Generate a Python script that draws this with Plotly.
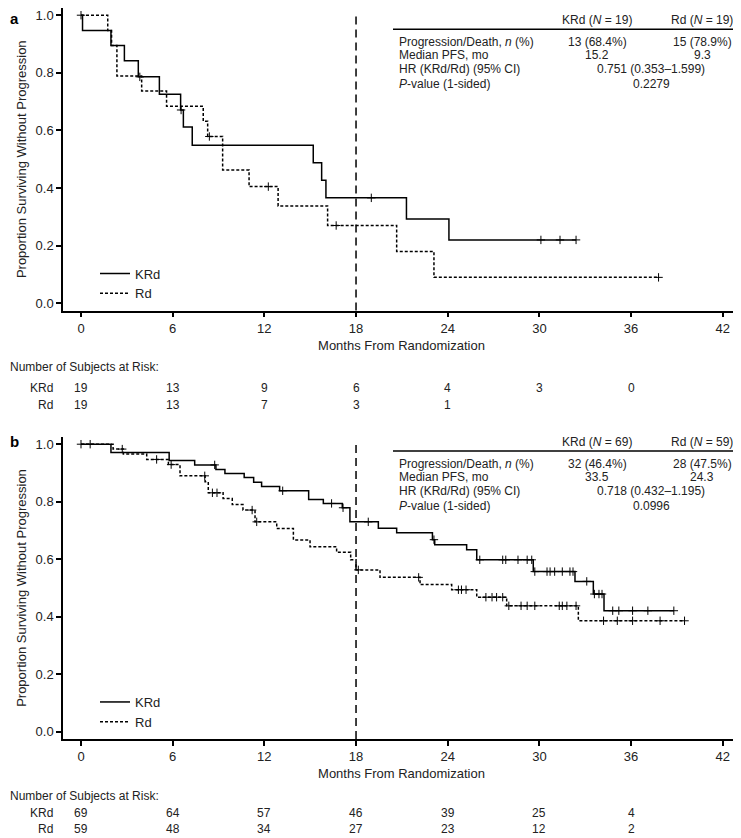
import bisect
import plotly.graph_objects as go

# the page body keeps its default 8px margin, so the figure is 8px smaller
OFF = 8
W, H = 741 - OFF, 838 - OFF
FONT = "Liberation Sans, Arial, sans-serif"
INK = "#222222"

# ---- panel a (N=19 / 19) ----
A_KRD_T = [0, 0.1, 1.96, 2.84, 3.75, 5.13, 6.52, 6.70, 7.28, 15.2, 15.75, 16.03, 21.3, 24.08]
A_KRD_S = [1.0, 0.947, 0.895, 0.842, 0.786, 0.726, 0.671, 0.612, 0.549, 0.488, 0.427, 0.366, 0.293, 0.220]
A_KRD_END = 32.4
A_KRD_CENS = [3.85, 6.55, 19.0, 30.1, 31.35, 32.4]

A_RD_T = [0, 1.75, 2.0, 2.35, 3.97, 5.6, 8.0, 8.29, 9.27, 11.0, 12.9, 16.14, 20.66, 23.1]
A_RD_S = [1.0, 0.947, 0.895, 0.789, 0.737, 0.684, 0.632, 0.579, 0.463, 0.405, 0.338, 0.270, 0.180, 0.090]
A_RD_END = 37.8
A_RD_CENS = [0.0, 8.4, 12.26, 16.7, 37.8]

# ---- panel b (N=69 / 59) ----
B_KRD_T = [0, 1.96, 5.77, 7.44, 8.83, 9.42, 10.68, 11.3, 11.82, 13.0, 14.9, 15.86, 17.1, 17.6,
           19.46, 20.66, 23.0, 23.15, 25.24, 25.9, 29.6, 32.33, 33.53, 34.23]
B_KRD_S = [1.0, 0.971, 0.943, 0.928, 0.912, 0.898, 0.884, 0.868, 0.853, 0.838, 0.808, 0.794, 0.779, 0.730,
           0.708, 0.692, 0.668, 0.650, 0.633, 0.598, 0.557, 0.523, 0.479, 0.421]
B_KRD_END = 38.8
B_KRD_CENS = [0.0, 0.6, 8.75, 13.2, 16.4, 17.15, 18.8, 23.1, 26.1, 27.6, 27.8, 28.6, 29.2, 29.5, 29.7,
              30.5, 30.7, 31.0, 31.5, 32.0, 32.2, 33.1, 33.6, 33.9, 34.1, 34.8, 35.2, 36.1, 37.1, 38.8]

B_RD_T = [0, 2.1, 2.77, 4.3, 5.72, 6.48, 8.12, 8.33, 9.3, 9.9, 10.6, 11.39, 12.81, 13.9, 14.99, 16.73,
          17.65, 18.0, 19.57, 22.19, 24.26, 25.9, 27.86, 32.55]
B_RD_S = [1.0, 0.983, 0.966, 0.947, 0.929, 0.890, 0.869, 0.831, 0.811, 0.790, 0.771, 0.730, 0.707, 0.667,
          0.643, 0.624, 0.598, 0.563, 0.537, 0.512, 0.494, 0.468, 0.438, 0.386]
B_RD_END = 39.5
B_RD_CENS = [2.7, 4.95, 5.9, 8.1, 8.6, 8.9, 11.2, 11.5, 18.15, 22.1, 24.7, 24.9, 25.2, 26.5, 26.9, 27.2,
             27.6, 28.0, 28.8, 29.2, 29.7, 31.3, 31.5, 31.8, 32.4, 34.2, 35.1, 36.1, 37.9, 39.5]

RISK_T = [0, 6, 12, 18, 24, 30, 36]
A_RISK_KRD = [19, 13, 9, 6, 4, 3, 0]
A_RISK_RD = [19, 13, 7, 3, 1]
B_RISK_KRD = [69, 64, 57, 46, 39, 25, 4]
B_RISK_RD = [59, 48, 34, 27, 23, 12, 2]

A_STATS = dict(head=("KRd (<i>N</i> = 19)", "Rd (<i>N</i> = 19)"),
               pd=("13 (68.4%)", "15 (78.9%)"), med=("15.2", "9.3"),
               hr="0.751 (0.353–1.599)", p="0.2279")
B_STATS = dict(head=("KRd (<i>N</i> = 69)", "Rd (<i>N</i> = 59)"),
               pd=("32 (46.4%)", "28 (47.5%)"), med=("33.5", "24.3"),
               hr="0.718 (0.432–1.195)", p="0.0996")


def px_x(p):
    # page pixel -> paper fraction
    return (p - OFF) / W


def px_y(p):
    return 1 - (p - OFF) / H


def level_at(T, S, t):
    return S[bisect.bisect_right(T, t) - 1]


fig = go.Figure()

# panel geometry in page pixels: top of plot area, y of the x-axis line, at-risk rows
PANELS = [
    dict(suf="", top=8, bot=310.5, risk_y=(388, 405), T=(A_KRD_T, A_KRD_S, A_KRD_END, A_KRD_CENS),
         R=(A_RD_T, A_RD_S, A_RD_END, A_RD_CENS), legend="legend"),
    dict(suf="2", top=437, bot=739, risk_y=(813, 829), T=(B_KRD_T, B_KRD_S, B_KRD_END, B_KRD_CENS),
         R=(B_RD_T, B_RD_S, B_RD_END, B_RD_CENS), legend="legend2"),
]

for p in PANELS:
    xa, ya = "x" + p["suf"], "y" + p["suf"]
    for name, (T, S, end, cens), dash in [("KRd", p["T"], "solid"), ("Rd", p["R"], "3px,2px")]:
        fig.add_trace(go.Scatter(
            x=T + [end], y=S + [S[-1]], mode="lines", line_shape="hv",
            line=dict(color="black", width=1.5, dash=dash), name=name,
            xaxis=xa, yaxis=ya, legend=p["legend"], hoverinfo="skip"))
        fig.add_trace(go.Scatter(
            x=cens, y=[level_at(T, S, c) for c in cens], mode="markers",
            marker=dict(symbol="cross-thin", size=6, line=dict(color="black", width=1)),
            showlegend=False, xaxis=xa, yaxis=ya, hoverinfo="skip"))

axis_common = dict(showline=True, linecolor="black", linewidth=1.5, ticks="outside", ticklen=5,
                   tickwidth=1.5, tickcolor="black", showgrid=False, zeroline=False,
                   ticklabeloverflow="allow",
                   tickfont=dict(size=13, color=INK, family=FONT))

lay = dict(width=W, height=H, margin=dict(l=0, r=0, t=0, b=0),
           paper_bgcolor="white", plot_bgcolor="white",
           font=dict(family=FONT, color=INK, size=12))

annotations = []
shapes = []
for i, p in enumerate(PANELS):
    s = p["suf"]
    dom_y = [px_y(p["bot"]), px_y(p["top"])]
    lay["xaxis" + s] = dict(axis_common, domain=[px_x(63), px_x(740)], range=[-1.178, 43.13],
                            tickvals=[0, 6, 12, 18, 24, 30, 36, 42], anchor="y" + s,
                            title=dict(text="Months From Randomization", font=dict(size=13), standoff=6))
    lay["yaxis" + s] = dict(axis_common, domain=dom_y, range=[-0.025, 1.025],
                            tickvals=[0, 0.2, 0.4, 0.6, 0.8, 1.0], tickformat=".1f", anchor="x" + s,
                            title=dict(text="Proportion Surviving Without Progression",
                                       font=dict(size=13), standoff=6))
    lay["legend" if i == 0 else "legend2"] = dict(
        x=px_x(95), y=px_y(p["bot"] - 52), xanchor="left", yanchor="top",
        bgcolor="rgba(0,0,0,0)", font=dict(size=13, color=INK), tracegroupgap=0,
        itemwidth=30)

    # 18-month landmark line
    shapes.append(dict(type="line", xref="x" + s, yref="y" + s + " domain", x0=18, x1=18, y0=0, y1=0.987,
                       line=dict(color="black", width=1.5, dash="8px,5px")))

    # panel letter
    annotations.append(dict(text="<b>" + "ab"[i] + "</b>", x=px_x(OFF), y=px_y(max(p["top"] - 6, OFF)),
                            xanchor="left", yanchor="top", font=dict(size=15, color="black")))

    # summary table
    st = A_STATS if i == 0 else B_STATS
    line_y = 29.3 if i == 0 else 451
    shapes.append(dict(type="line", xref="paper", yref="paper", x0=px_x(393), x1=px_x(740),
                       y0=px_y(line_y), y1=px_y(line_y), line=dict(color="black", width=1.5)))
    rows = [
        (line_y - 9, None, st["head"][0], st["head"][1], None),
        (line_y + 12.5, "Progression/Death, <i>n</i> (%)", st["pd"][0], st["pd"][1], None),
        (line_y + 26, "Median PFS, mo", st["med"][0], st["med"][1], None),
        (line_y + 40, "HR (KRd/Rd) (95% CI)", None, None, st["hr"]),
        (line_y + 54.5, "<i>P</i>-value (1-sided)", None, None, st["p"]),
    ]
    for yy, lab, c1, c2, mid in rows:
        if lab:
            annotations.append(dict(text=lab, x=px_x(397), y=px_y(yy), xanchor="left"))
        if c1:
            annotations.append(dict(text=c1, x=px_x(597), y=px_y(yy), xanchor="center"))
        if c2:
            annotations.append(dict(text=c2, x=px_x(702), y=px_y(yy), xanchor="center"))
        if mid:
            annotations.append(dict(text=mid, x=px_x(651), y=px_y(yy), xanchor="center"))

    # number at risk
    b = p["bot"]
    annotations.append(dict(text="Number of Subjects at Risk:", x=px_x(OFF), y=px_y(b + 56.5), xanchor="left"))
    krd_r, rd_r = (A_RISK_KRD, A_RISK_RD) if i == 0 else (B_RISK_KRD, B_RISK_RD)
    for lab, vals, yy in [("KRd", krd_r, p["risk_y"][0]), ("Rd", rd_r, p["risk_y"][1])]:
        annotations.append(dict(text=lab, x=px_x(54), y=px_y(yy), xanchor="right", borderpad=0))
        for t, v in zip(RISK_T, vals):
            annotations.append(dict(text=str(v), x=t, xref="x" + s, y=px_y(yy), xanchor="center",
                                    borderpad=0))

for a in annotations:
    a.setdefault("xref", "paper")
    a.setdefault("yref", "paper")
    a.setdefault("yanchor", "middle")
    a.setdefault("showarrow", False)
    a.setdefault("font", dict(size=12, color=INK))

lay["annotations"] = annotations
lay["shapes"] = shapes
fig.update_layout(**lay)
fig.write_html("out.html")
